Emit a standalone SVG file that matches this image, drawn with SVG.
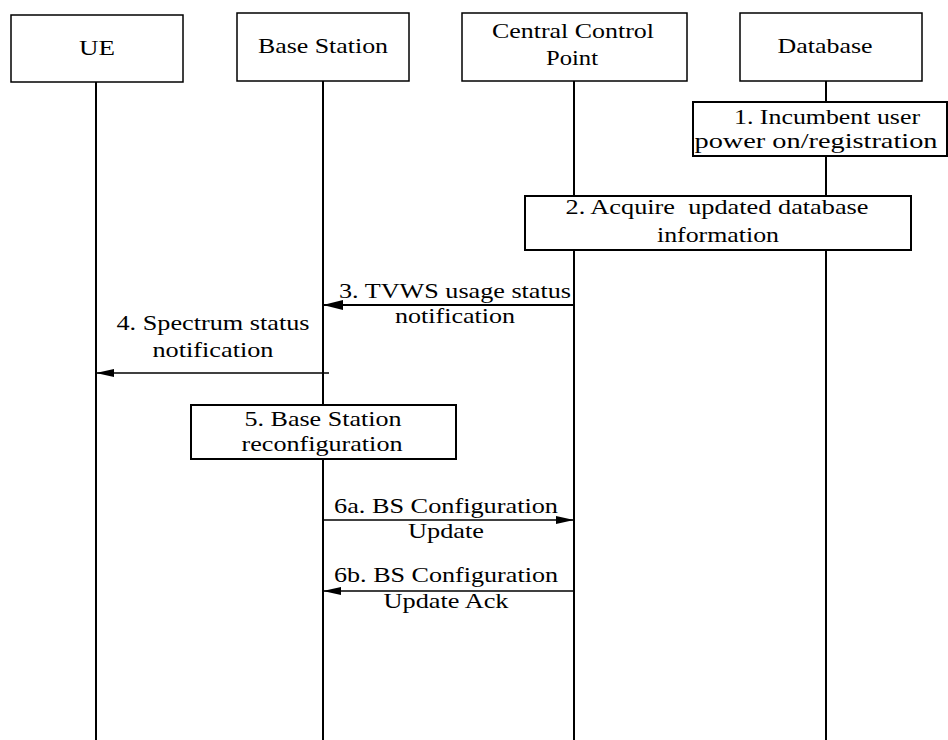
<svg xmlns="http://www.w3.org/2000/svg" width="948" height="740" viewBox="0 0 948 740">
  <style>
    .box { fill: #ffffff; stroke: #000000; stroke-width: 1.5; }
    .step { fill: #ffffff; stroke: #000000; stroke-width: 2; }
    .life { stroke: #000000; stroke-width: 2; fill: none; }
    .msg { stroke: #000000; fill: none; }
    text { font-family: "Liberation Serif", "Times New Roman", serif; font-size: 22px; fill: #000000; text-anchor: middle; }
    .pre { white-space: pre; }
  </style>
  <defs>
    <marker id="arrow" viewBox="0 0 20 10" refX="20" refY="5" markerWidth="20" markerHeight="10" markerUnits="userSpaceOnUse" orient="auto">
      <path d="M0,0 L20,5 L0,10 Z" fill="#000000"/>
    </marker>
    <marker id="arrow-thin" viewBox="0 0 18 8" refX="18" refY="4" markerWidth="18" markerHeight="8" markerUnits="userSpaceOnUse" orient="auto">
      <path d="M0,0 L18,4 L0,8 Z" fill="#000000"/>
    </marker>
  </defs>

  <!-- lifelines -->
  <g id="lifelines">
    <line class="life" x1="96" y1="82" x2="96" y2="740"/>
    <line class="life" x1="323" y1="81" x2="323" y2="740"/>
    <line class="life" x1="574" y1="81" x2="574" y2="740"/>
    <line class="life" x1="826" y1="81" x2="826" y2="740"/>
  </g>

  <!-- participants -->
  <g id="ue">
    <rect class="box" x="11" y="15" width="172" height="67"/>
    <text x="97" y="55" textLength="36" lengthAdjust="spacingAndGlyphs">UE</text>
  </g>
  <g id="base-station">
    <rect class="box" x="237" y="13" width="172" height="68"/>
    <text x="323" y="53" textLength="130" lengthAdjust="spacingAndGlyphs">Base Station</text>
  </g>
  <g id="central-control-point">
    <rect class="box" x="462" y="13" width="225" height="68"/>
    <text x="573" y="38" textLength="162" lengthAdjust="spacingAndGlyphs">Central Control</text>
    <text x="572" y="65" textLength="52" lengthAdjust="spacingAndGlyphs">Point</text>
  </g>
  <g id="database">
    <rect class="box" x="740" y="13" width="182" height="68"/>
    <text x="825" y="53" textLength="95" lengthAdjust="spacingAndGlyphs">Database</text>
  </g>

  <!-- procedure steps -->
  <g id="step1">
    <rect class="step" x="693" y="102" width="254" height="54"/>
    <text x="827" y="124" textLength="186" lengthAdjust="spacingAndGlyphs">1. Incumbent user</text>
    <text x="816" y="148" textLength="243" lengthAdjust="spacingAndGlyphs">power on/registration</text>
  </g>
  <g id="step2">
    <rect class="step" x="525" y="196" width="386" height="54"/>
    <text class="pre" x="717" y="214" textLength="303" lengthAdjust="spacingAndGlyphs">2. Acquire  updated database</text>
    <text x="718" y="242" textLength="122" lengthAdjust="spacingAndGlyphs">information</text>
  </g>
  <g id="step5">
    <rect class="step" x="191" y="405" width="265" height="54"/>
    <text x="323" y="426" textLength="157" lengthAdjust="spacingAndGlyphs">5. Base Station</text>
    <text x="322" y="451" textLength="161" lengthAdjust="spacingAndGlyphs">reconfiguration</text>
  </g>

  <!-- messages -->
  <g id="connectors">
    <line class="msg" x1="574" y1="305" x2="323" y2="305" stroke-width="2" marker-end="url(#arrow)"/>
    <line class="msg" x1="329" y1="373" x2="96" y2="373" stroke-width="1.3" marker-end="url(#arrow-thin)"/>
    <line class="msg" x1="323" y1="520" x2="574" y2="520" stroke-width="1.5" marker-end="url(#arrow-thin)"/>
    <line class="msg" x1="574" y1="591" x2="323" y2="591" stroke-width="1.5" marker-end="url(#arrow-thin)"/>
  </g>

  <!-- message labels -->
  <g id="labels">
    <text x="455" y="298" textLength="232" lengthAdjust="spacingAndGlyphs">3. TVWS usage status</text>
    <text x="455" y="323" textLength="120" lengthAdjust="spacingAndGlyphs">notification</text>
    <text x="213" y="330" textLength="193" lengthAdjust="spacingAndGlyphs">4. Spectrum status</text>
    <text x="213" y="357" textLength="121" lengthAdjust="spacingAndGlyphs">notification</text>
    <text x="446" y="513" textLength="224" lengthAdjust="spacingAndGlyphs">6a. BS Configuration</text>
    <text x="446" y="538" textLength="76" lengthAdjust="spacingAndGlyphs">Update</text>
    <text x="446" y="582" textLength="224" lengthAdjust="spacingAndGlyphs">6b. BS Configuration</text>
    <text x="446" y="608" textLength="125" lengthAdjust="spacingAndGlyphs">Update Ack</text>
  </g>
</svg>
